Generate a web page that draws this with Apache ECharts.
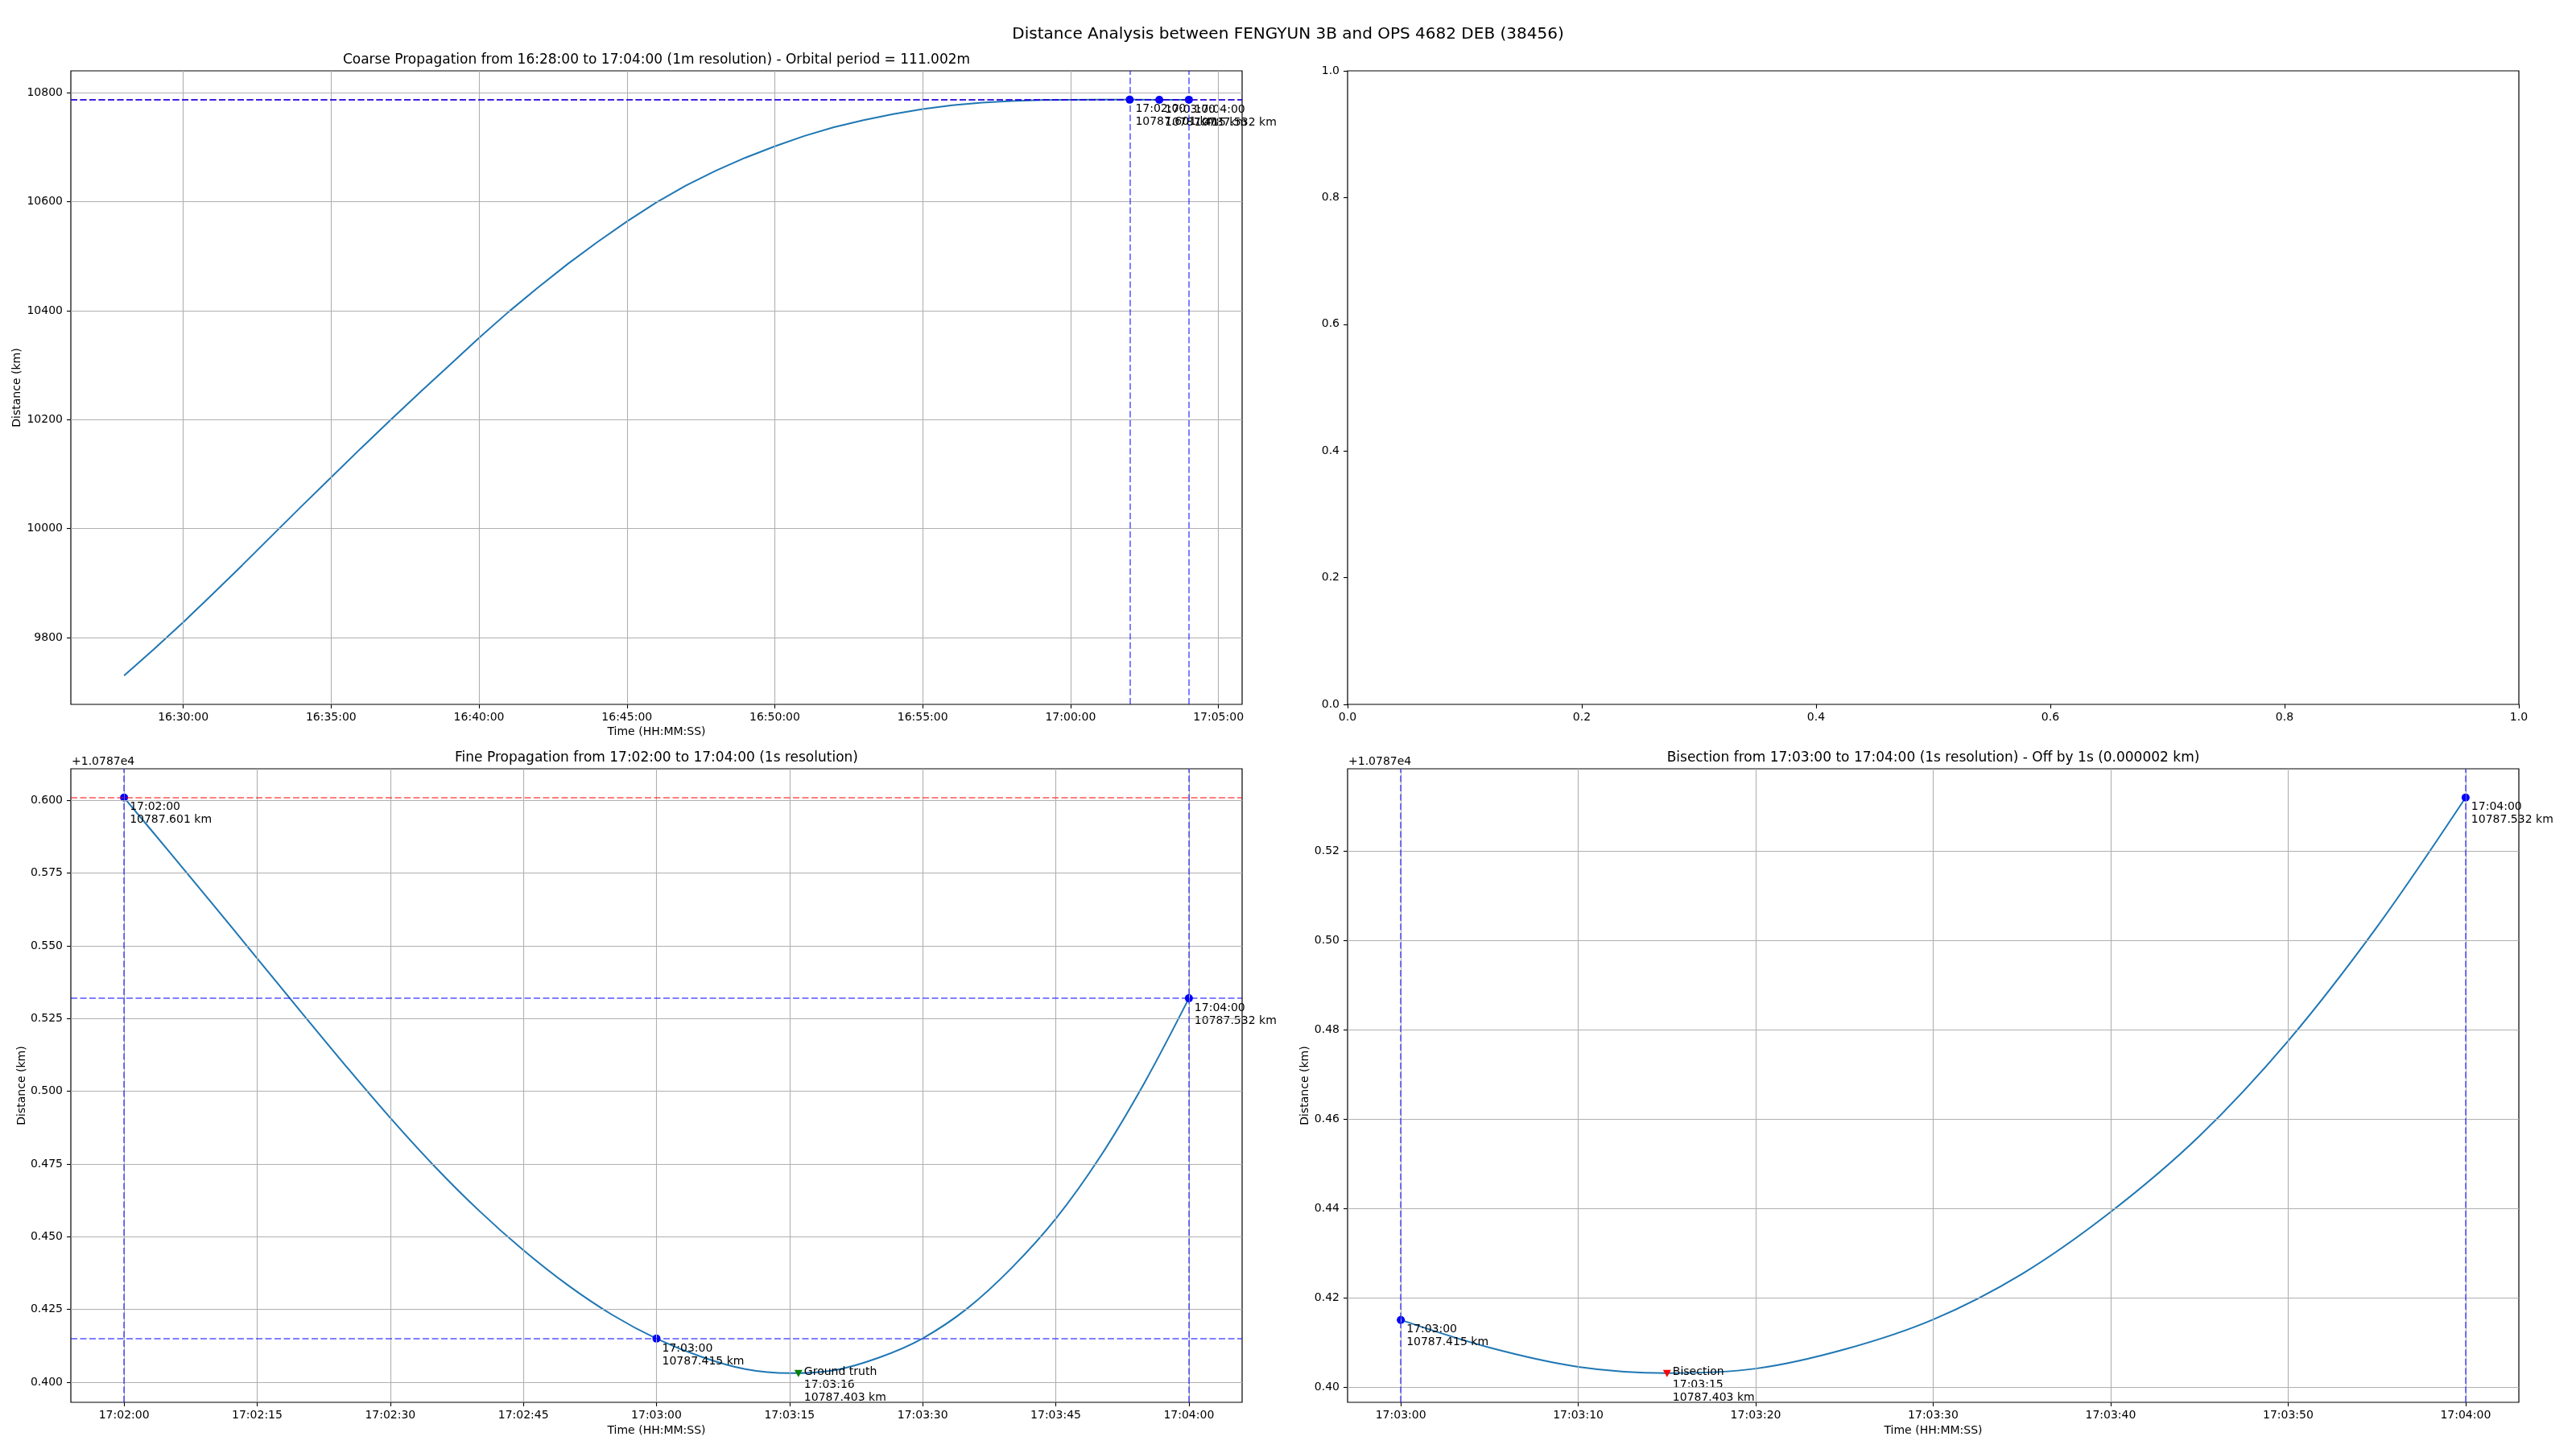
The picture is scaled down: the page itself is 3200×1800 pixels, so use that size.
<!DOCTYPE html>
<html><head><meta charset="utf-8">
<script src="https://cdn.jsdelivr.net/npm/echarts@6/dist/echarts.min.js"></script>
<style>html,body{margin:0;padding:0;background:#fff}#c{width:3200px;height:1800px}</style>
</head><body><div id="c"></div>
<script>
// ---------------- DATA ----------------
const suptitle = 'Distance Analysis between FENGYUN 3B and OPS 4682 DEB (38456)';
const coarseTitle = 'Coarse Propagation from 16:28:00 to 17:04:00 (1m resolution) - Orbital period = 111.002m';
const fineTitle = 'Fine Propagation from 17:02:00 to 17:04:00 (1s resolution)';
const bisectTitle = 'Bisection from 17:03:00 to 17:04:00 (1s resolution) - Off by 1s (0.000002 km)';
const xName = 'Time (HH:MM:SS)';
const yName = 'Distance (km)';
const offsetText = '+1.0787e4';
const offsetBase = 10787;

const coarseTimes = ['16:28:00','16:29:00','16:30:00','16:31:00','16:32:00','16:33:00','16:34:00','16:35:00',
  '16:36:00','16:37:00','16:38:00','16:39:00','16:40:00','16:41:00','16:42:00','16:43:00','16:44:00','16:45:00',
  '16:46:00','16:47:00','16:48:00','16:49:00','16:50:00','16:51:00','16:52:00','16:53:00','16:54:00','16:55:00',
  '16:56:00','16:57:00','16:58:00','16:59:00','17:00:00','17:01:00','17:02:00','17:03:00','17:04:00'];
const coarseDist = [9730,9778,9828,9880,9933,9987,10041,10094,
  10147,10199,10250,10300,10350,10398,10443,10486,10526,10564,
  10599,10630,10657,10681,10702,10721,10737,10750,10761,10770.5,
  10777.5,10782.3,10785.3,10786.9,10787.5,10787.7,10787.601,10787.415,10787.532];
const coarseMarkTimes = ['17:02:00','17:03:00','17:04:00'];
const coarseMarkDist = [10787.601,10787.415,10787.532];
const coarseVLines = ['17:02:00','17:04:00'];
const coarseXTicks = ['16:30:00','16:35:00','16:40:00','16:45:00','16:50:00','16:55:00','17:00:00','17:05:00'];
const coarseYTicks = [9800,10000,10200,10400,10600,10800];

const fineTimes = ['17:02:00','17:02:05','17:02:10','17:02:15','17:02:20','17:02:25','17:02:30','17:02:35',
  '17:02:40','17:02:45','17:02:50','17:02:55','17:03:00','17:03:05','17:03:10','17:03:15','17:03:20','17:03:25',
  '17:03:30','17:03:35','17:03:40','17:03:45','17:03:50','17:03:55','17:04:00'];
const fineDist = [10787.6010,10787.5827,10787.5643,10787.5457,10787.5271,10787.5087,10787.4909,10787.4742,
  10787.4590,10787.4454,10787.4334,10787.4232,10787.4150,10787.4088,10787.4045,10787.4031,10787.4041,10787.4084,
  10787.4151,10787.4253,10787.4392,10787.4562,10787.4775,10787.5030,10787.5320];
const fineMarkTimes = ['17:02:00','17:03:00','17:04:00'];
const fineMarkDist = [10787.601,10787.415,10787.532];
const groundTruthTime = '17:03:16';
const groundTruthDist = 10787.403;
const refRed = [10787.601];
const refBlue = [10787.532,10787.415];
const fineVLines = ['17:02:00','17:04:00'];
const fineXTicks = ['17:02:00','17:02:15','17:02:30','17:02:45','17:03:00','17:03:15','17:03:30','17:03:45','17:04:00'];
const fineYTicks = [0.400,0.425,0.450,0.475,0.500,0.525,0.550,0.575,0.600];

const bisectTimes = ['17:03:00','17:03:05','17:03:10','17:03:15','17:03:20','17:03:25','17:03:30','17:03:35',
  '17:03:40','17:03:45','17:03:50','17:03:55','17:04:00'];
const bisectDist = [10787.4150,10787.4088,10787.4045,10787.4031,10787.4041,10787.4084,10787.4151,10787.4253,
  10787.4392,10787.4562,10787.4775,10787.5030,10787.5320];
const bisectMarkTimes = ['17:03:00','17:04:00'];
const bisectMarkDist = [10787.415,10787.532];
const bisectionTime = '17:03:15';
const bisectionDist = 10787.403;
const bisectVLines = ['17:03:00','17:04:00'];
const bisectXTicks = ['17:03:00','17:03:10','17:03:20','17:03:30','17:03:40','17:03:50','17:04:00'];
const bisectYTicks = [0.40,0.42,0.44,0.46,0.48,0.50,0.52];

// ---------------- HELPERS ----------------
const FONT = 'DejaVu Sans';
function toSec(s){const p=s.split(':').map(Number);return p[0]*3600+p[1]*60+(p[2]||0);}
function pad(n){return (n<10?'0':'')+n;}
function fmtTime(sec){sec=Math.round(sec);const h=Math.floor(sec/3600),m=Math.floor((sec%3600)/60),s=sec%60;return pad(h)+':'+pad(m)+':'+pad(s);}
function pairs(ts,vs){return ts.map((t,i)=>[toSec(t),vs[i]]);}
function padExt(vals){const mn=Math.min(...vals),mx=Math.max(...vals),d=(mx-mn)*0.05;return [mn-d,mx+d];}

const CURVE='#1f77b4';
const GRIDC='#b0b0b0';

function grid(left,top){return {left:left,top:top,width:1455,height:787,show:true,borderColor:'#000',borderWidth:1.2,backgroundColor:'#fff',containLabel:false};}

function xAxisCfg(gi,ext,ticks,nameGap,showName){
  const vals=ticks.map(toSec);
  return {type:'value',gridIndex:gi,min:ext[0],max:ext[1],
    name:showName?xName:'',nameLocation:'middle',nameGap:nameGap,
    nameTextStyle:{fontFamily:FONT,fontSize:14,color:'#000'},
    axisLine:{show:false},
    axisTick:{show:true,length:5,lineStyle:{color:'#000',width:1.1},customValues:vals},
    axisLabel:{show:true,margin:9,fontFamily:FONT,fontSize:14,color:'#000',customValues:vals,formatter:v=>fmtTime(v),showMinLabel:true,showMaxLabel:true},
    splitLine:{show:false}};
}
function yAxisCfg(gi,ext,ticks,fmt,nameGap){
  return {type:'value',gridIndex:gi,min:ext[0],max:ext[1],scale:true,
    name:yName,nameLocation:'middle',nameGap:nameGap,nameRotate:90,
    nameTextStyle:{fontFamily:FONT,fontSize:14,color:'#000'},
    axisLine:{show:false},
    axisTick:{show:true,length:5,lineStyle:{color:'#000',width:1.1},customValues:ticks},
    axisLabel:{show:true,margin:10,fontFamily:FONT,fontSize:14,color:'#000',customValues:ticks,formatter:fmt},
    splitLine:{show:false}};
}
function gridLineSeries(xi,xs,ys,anchor){
  return {type:'line',xAxisIndex:xi,yAxisIndex:xi,data:[anchor],showSymbol:false,symbol:'none',
    lineStyle:{width:0,opacity:0},silent:true,z:1,
    markLine:{silent:true,precision:8,symbol:['none','none'],label:{show:false},animation:false,
      lineStyle:{color:GRIDC,width:1.1,type:'solid',opacity:1},
      data:[...xs.map(v=>({xAxis:v})),...ys.map(v=>({yAxis:v}))]}};
}
function refSeries(xi,hlines,color,vlines,anchor){
  const d=[...hlines.map(v=>({yAxis:v})),...(vlines||[]).map(t=>({xAxis:toSec(t)}))];
  return {type:'line',xAxisIndex:xi,yAxisIndex:xi,data:[anchor],showSymbol:false,symbol:'none',
    lineStyle:{width:0,opacity:0},silent:true,z:2,
    markLine:{silent:true,precision:8,symbol:['none','none'],label:{show:false},animation:false,
      lineStyle:{color:color,width:2,type:[8,3.5],opacity:0.5},data:d}};
}
function curveSeries(xi,data,smooth){
  return {type:'line',xAxisIndex:xi,yAxisIndex:xi,data:data,showSymbol:false,symbol:'none',smooth:smooth,
    lineStyle:{color:CURVE,width:2},silent:true,z:3,clip:true};
}
const TRI='path://M0,0 L10,0 L5,9 Z';
function markSeries(xi,ts,vs,symbol,color,labelFn,pos,size){
  return {type:'scatter',xAxisIndex:xi,yAxisIndex:xi,z:4,silent:true,
    symbol:symbol,symbolSize:size,itemStyle:{color:color,opacity:1},
    data:ts.map((t,i)=>({value:[toSec(t),vs[i]],name:labelFn(t,vs[i])})),
    label:{show:true,position:pos,align:'left',verticalAlign:'top',formatter:p=>p.name,
      fontFamily:FONT,fontSize:14,lineHeight:16,color:'#000'}};
}
const markLbl=(t,v)=>t+'\n'+v.toFixed(3)+' km';

// ---------------- EXTENTS ----------------
const cPairs=pairs(coarseTimes,coarseDist);
const cX=padExt(coarseTimes.map(toSec));
const cY=padExt(coarseDist);
const fPairs=pairs(fineTimes,fineDist);
const fX=padExt(fineTimes.map(toSec));
const fY=padExt([...fineDist,groundTruthDist]);
const bPairs=pairs(bisectTimes,bisectDist);
const bX=padExt(bisectTimes.map(toSec));
const bY=padExt([...bisectDist,bisectionDist]);

const offFmt3=v=>(v-offsetBase).toFixed(3);
const offFmt2=v=>(v-offsetBase).toFixed(2);
const fineYVals=fineYTicks.map(v=>offsetBase+v);
const bisectYVals=bisectYTicks.map(v=>offsetBase+v);

const L1=88,L2=1674,T1=88,T2=955;
const option={
  animation:false,
  backgroundColor:'#fff',
  grid:[grid(L1,T1),grid(L2,T1),grid(L1,T2),grid(L2,T2)],
  xAxis:[
    xAxisCfg(0,cX,coarseXTicks,27,true),
    {type:'value',gridIndex:1,min:0,max:1,interval:0.2,axisLine:{show:false},
      axisTick:{show:true,length:5,lineStyle:{color:'#000',width:1.1}},
      axisLabel:{margin:9,fontFamily:FONT,fontSize:14,color:'#000',formatter:v=>v.toFixed(1)},splitLine:{show:false}},
    xAxisCfg(2,fX,fineXTicks,28,true),
    xAxisCfg(3,bX,bisectXTicks,28,true)
  ],
  yAxis:[
    yAxisCfg(0,cY,coarseYTicks,v=>String(Math.round(v)),60),
    {type:'value',gridIndex:1,min:0,max:1,interval:0.2,axisLine:{show:false},
      axisTick:{show:true,length:5,lineStyle:{color:'#000',width:1.1}},
      axisLabel:{margin:10,fontFamily:FONT,fontSize:14,color:'#000',formatter:v=>v.toFixed(1)},splitLine:{show:false}},
    yAxisCfg(2,fY,fineYVals,offFmt3,54),
    yAxisCfg(3,bY,bisectYVals,offFmt2,46)
  ],
  series:[
    gridLineSeries(0,coarseXTicks.map(toSec),coarseYTicks,cPairs[0]),
    refSeries(0,refRed,'#ff0000',[],cPairs[0]),
    refSeries(0,refBlue,'#0000ff',coarseVLines,cPairs[0]),
    curveSeries(0,cPairs,false),
    markSeries(0,coarseMarkTimes,coarseMarkDist,'circle','#0000ff',markLbl,[12,9],10),

    {type:'scatter',xAxisIndex:1,yAxisIndex:1,data:[],silent:true},

    gridLineSeries(2,fineXTicks.map(toSec),fineYVals,fPairs[0]),
    refSeries(2,refRed,'#ff0000',[],fPairs[0]),
    refSeries(2,refBlue,'#0000ff',fineVLines,fPairs[0]),
    curveSeries(2,fPairs,0.35),
    markSeries(2,fineMarkTimes,fineMarkDist,'circle','#0000ff',markLbl,[12,9],10),
    markSeries(2,[groundTruthTime],[groundTruthDist],TRI,'#008000',(t,v)=>'Ground truth\n'+t+'\n'+v.toFixed(3)+' km',[12,-5],[10,9]),

    gridLineSeries(3,bisectXTicks.map(toSec),bisectYVals,bPairs[0]),
    refSeries(3,[],'#0000ff',bisectVLines,bPairs[0]),
    curveSeries(3,bPairs,0.35),
    markSeries(3,bisectMarkTimes,bisectMarkDist,'circle','#0000ff',markLbl,[12,9],10),
    markSeries(3,[bisectionTime],[bisectionDist],TRI,'#ff0000',(t,v)=>'Bisection\n'+t+'\n'+v.toFixed(3)+' km',[12,-5],[10,9])
  ],
  graphic:[
    {type:'text',x:1600,y:43,style:{text:suptitle,fontFamily:FONT,fontSize:20,fill:'#000',align:'center',verticalAlign:'middle'}},
    {type:'text',x:L1+727.5,y:75,style:{text:coarseTitle,fontFamily:FONT,fontSize:17,fill:'#000',align:'center',verticalAlign:'middle'}},
    {type:'text',x:L1+727.5,y:942,style:{text:fineTitle,fontFamily:FONT,fontSize:17,fill:'#000',align:'center',verticalAlign:'middle'}},
    {type:'text',x:L2+727.5,y:942,style:{text:bisectTitle,fontFamily:FONT,fontSize:17,fill:'#000',align:'center',verticalAlign:'middle'}},
    {type:'text',x:L1+1,y:946,style:{text:offsetText,fontFamily:FONT,fontSize:14,fill:'#000',align:'left',verticalAlign:'middle'}},
    {type:'text',x:L2+1,y:946,style:{text:offsetText,fontFamily:FONT,fontSize:14,fill:'#000',align:'left',verticalAlign:'middle'}}
  ]
};
const chart=echarts.init(document.getElementById('c'),null,{renderer:'canvas'});
chart.setOption(option);
</script></body></html>
